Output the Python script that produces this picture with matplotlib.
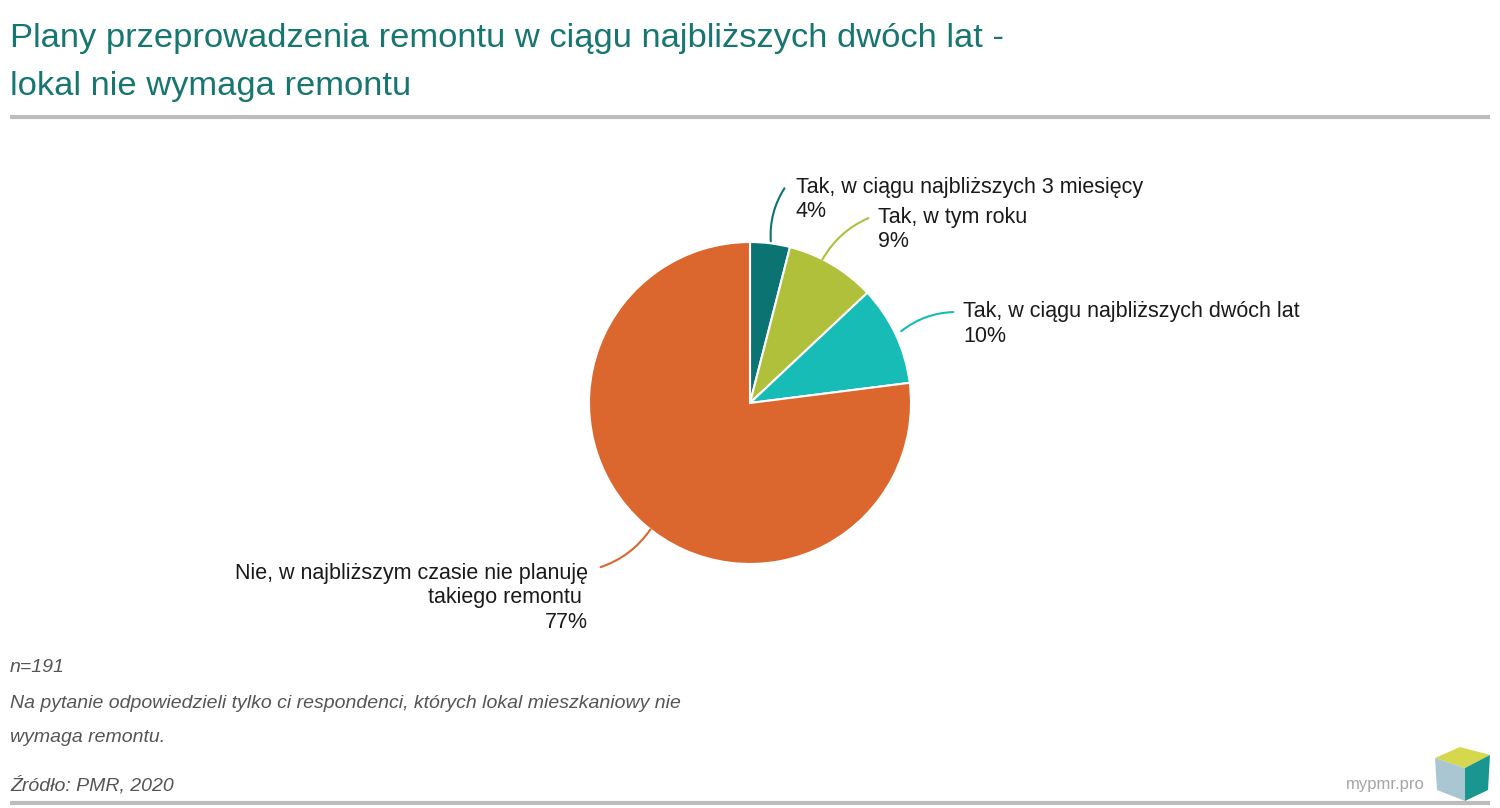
import matplotlib.pyplot as plt
from matplotlib.patches import Polygon

W, H = 1500, 808

labels = ['Tak, w ciągu najbliższych 3 miesięcy', 'Tak, w tym roku',
          'Tak, w ciągu najbliższych dwóch lat',
          'Nie, w najbliższym czasie nie planuję\ntakiego remontu ']
values = [4, 9, 10, 77]
colors = ['#0b7372', '#b0c03b', '#16bcb5', '#db672e']

title = ['Plany przeprowadzenia remontu w ciągu najbliższych dwóch lat -',
         'lokal nie wymaga remontu']
notes = ['n=191',
         'Na pytanie odpowiedzieli tylko ci respondenci, których lokal mieszkaniowy nie',
         'wymaga remontu.']
source = 'Źródło: PMR, 2020'

plt.rcParams['font.family'] = ['Liberation Sans', 'DejaVu Sans']

fig = plt.figure(figsize=(15, 8.08), dpi=100)
ax = fig.add_axes([0, 0, 1, 1])


def Y(y):
    return H - y


cx, cy, r = 750, 403, 161
ax.pie(values, colors=colors, startangle=90, counterclock=False,
       center=(cx, Y(cy)), radius=r, frame=True,
       wedgeprops=dict(edgecolor='white', linewidth=1.5))
ax.set_xlim(0, W)
ax.set_ylim(0, H)
ax.axis('off')

# labels with leader lines: (text x, first line y, align, start, end)
lab_pos = [
    (796, 187, 'left', (771, 244), (786, 186)),
    (878, 217, 'left', (821, 262), (871, 217)),
    (963, 312, 'left', (899, 333), (956, 312)),
    (588, 573, 'right', (652, 527), (598, 568)),
]
gap = 24.5
for (lab, v, c, (tx, ty, ha, p0, p1)) in zip(labels, values, colors, lab_pos):
    lines = lab.split('\n') + [f'{v}%']
    for i, ln in enumerate(lines):
        ax.text(tx, Y(ty + i * gap), ln, ha=ha, va='center', fontsize=15.5,
                color='#1a1a1a')
    ax.annotate('', xy=(p1[0], Y(p1[1])), xytext=(p0[0], Y(p0[1])),
                arrowprops=dict(arrowstyle='-', color=c, lw=1.5,
                                connectionstyle='arc3,rad=-0.18'))

# title
ax.text(10, Y(38), title[0], fontsize=24.8, color='#17766f',
        va='center', ha='left')
ax.text(10, Y(86), title[1], fontsize=24.8, color='#17766f',
        va='center', ha='left')
ax.plot([10, 1490], [Y(117), Y(117)], color='#bdbdbd', lw=3,
        solid_capstyle='butt')

# footer
for t, y in zip(notes, [667, 703, 738]):
    ax.text(10, Y(y), t, fontsize=14, style='italic', color='#555555',
            va='center', ha='left')
ax.text(10, Y(785), source, fontsize=14, style='italic', color='#555555',
        va='center', ha='left')
ax.plot([10, 1490], [Y(803), Y(803)], color='#bdbdbd', lw=3,
        solid_capstyle='butt')

# logo
ax.text(1425, Y(785), 'mypmr.pro', fontsize=12, color='#a5a5a5',
        va='center', ha='right')
ax.add_patch(Polygon([(1435, Y(758)), (1460, Y(747)), (1490, Y(755)),
                      (1465, Y(768))], closed=True, color='#d5d84c', lw=0))
ax.add_patch(Polygon([(1435, Y(758)), (1465, Y(768)), (1465, Y(801)),
                      (1437, Y(790))], closed=True, color='#aac6d2', lw=0))
ax.add_patch(Polygon([(1465, Y(768)), (1490, Y(755)), (1488, Y(790)),
                      (1465, Y(801))], closed=True, color='#18968f', lw=0))

fig.savefig('out.png', dpi=100)
